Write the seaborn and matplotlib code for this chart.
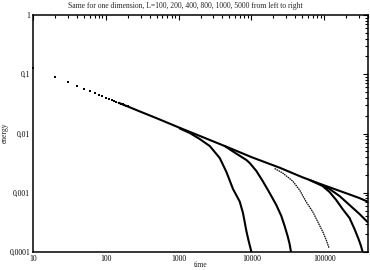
import matplotlib
matplotlib.use("Agg")
import matplotlib.pyplot as plt
import seaborn as sns
import pandas as pd
from matplotlib.ticker import FixedLocator, FixedFormatter, LogLocator, NullFormatter

# ---- data ----
title = "Same for one dimension, L=100, 200, 400, 800, 1000, 5000 from left to right"

# early common points (shown as separate dots)
dots_time = [10, 20, 30, 40, 50, 60, 70, 80, 90, 100, 110, 120, 130, 140, 150,
             160, 170, 180, 190, 200]
dots_energy = [0.128, 0.091, 0.0748, 0.064, 0.057, 0.0527, 0.0483, 0.0452, 0.0425,
               0.0402, 0.0385, 0.0368, 0.0354, 0.0341, 0.0330, 0.0320, 0.0310,
               0.0301, 0.0293, 0.0286]

# L=5000 (follows the power law to the end)
L5000_time = [150, 200, 300, 500, 1000, 2000, 5000, 10000, 24400, 50000, 86500,
              201000, 300000, 394000]
L5000_energy = [0.0330, 0.0286, 0.0233, 0.0181, 0.0127, 0.0090, 0.0057, 0.0040,
                0.00265, 0.00183, 0.00142, 0.00098, 0.00082, 0.00071]

L100_time = [1038, 1424, 1953, 2679, 3674, 4540, 5591, 6909, 7667, 8091, 8537,
             9036, 9476, 9998]
L100_energy = [0.01215, 0.0102, 0.00807, 0.00615, 0.00386, 0.00224, 0.001157,
               0.000712, 0.000455, 0.000321, 0.000226, 0.000166, 0.000131, 0.000101]

L200_time = [4303, 5591, 8537, 9476, 11710, 14424, 17816, 22025, 25796, 28620,
             31465, 33526, 34930]
L200_energy = [0.00615, 0.00497, 0.00357, 0.00318, 0.00233, 0.00155, 0.00099,
               0.00062, 0.000405, 0.000275, 0.000186, 0.000136, 0.000102]

L400_time = [20870, 26870, 36850, 45960, 56800, 69970, 81900, 95940, 106800, 116700]
L400_energy = [0.002566, 0.002155, 0.001579, 0.001112, 0.000698, 0.000473,
               0.000321, 0.000218, 0.000159, 0.000117]

L800_time = [63040, 95040, 118600, 146500, 178800, 223000, 261200, 296300,
             320700, 336200]
L800_energy = [0.001641, 0.0013, 0.001029, 0.000754, 0.000532, 0.000375,
               0.000244, 0.000166, 0.000126, 0.000102]

L1000_time = [86460, 118600, 162600, 223000, 305800, 393800]
L1000_energy = [0.001405, 0.001157, 0.000881, 0.000621, 0.000438, 0.000321]

xtick_values = [10, 100, 1000, 10000, 100000]
xtick_labels = ["10", "100", "1000", "10000", "100000"]
ytick_values = [0.0001, 0.001, 0.01, 0.1, 1]
ytick_labels = ["0,0001", "0,001", "0,01", "0,1", "1"]

# ---- plotting ----
sns.set_style("white")
plt.rcParams["font.family"] = ["Liberation Serif", "DejaVu Serif"]

fig = plt.figure(figsize=(3.7, 2.7), dpi=100)
ax = fig.add_axes([33 / 370, 18 / 270, 335 / 370, 237 / 270])

curves = [
    (L5000_time, L5000_energy, 1.5, "-"),
    (L100_time, L100_energy, 1.5, "-"),
    (L200_time, L200_energy, 1.5, "-"),
    (L400_time, L400_energy, 0.9, (0, (1.2, 0.6))),
    (L800_time, L800_energy, 1.5, "-"),
    (L1000_time, L1000_energy, 1.5, "-"),
]
for t, e, lw, ls in curves:
    df = pd.DataFrame({"time": t, "energy": e})
    sns.lineplot(data=df, x="time", y="energy", ax=ax, color="black", lw=lw,
                 linestyle=ls, sort=False, estimator=None)

dots = pd.DataFrame({"time": dots_time, "energy": dots_energy})
sns.scatterplot(data=dots, x="time", y="energy", ax=ax, color="black",
                marker="s", s=3, linewidth=0, clip_on=False, zorder=5)

ax.set_xscale("log")
ax.set_yscale("log")
ax.set_xlim(10, 4e5)
ax.set_ylim(1e-4, 1)

ax.xaxis.set_major_locator(FixedLocator(xtick_values))
ax.xaxis.set_major_formatter(FixedFormatter(xtick_labels))
ax.yaxis.set_major_locator(FixedLocator(ytick_values))
ax.yaxis.set_major_formatter(FixedFormatter(ytick_labels))
ax.xaxis.set_minor_locator(LogLocator(base=10, subs=range(2, 10), numticks=20))
ax.yaxis.set_minor_locator(LogLocator(base=10, subs=range(2, 10), numticks=20))
ax.xaxis.set_minor_formatter(NullFormatter())
ax.yaxis.set_minor_formatter(NullFormatter())

ax.tick_params(which="both", direction="in", top=True, right=True,
               colors="black", labelsize=5.5, width=0.8)
ax.tick_params(which="major", length=3.5, pad=2)
ax.tick_params(which="minor", length=2)
for sp in ax.spines.values():
    sp.set_color("black")
    sp.set_linewidth(1.1)

ax.set_xlabel("")
ax.set_ylabel("")
fig.text((33 + 368) / 2 / 370, 1 - 265 / 270, "time", ha="center", va="center",
         fontsize=5.5)
fig.text(5 / 370, 1 - 133 / 270, "energy", ha="center", va="center",
         rotation=90, fontsize=5.5)
fig.text(0.5, 1 - 6 / 270, title, ha="center", va="center", fontsize=5.5)

fig.savefig("out.png", dpi=100)
